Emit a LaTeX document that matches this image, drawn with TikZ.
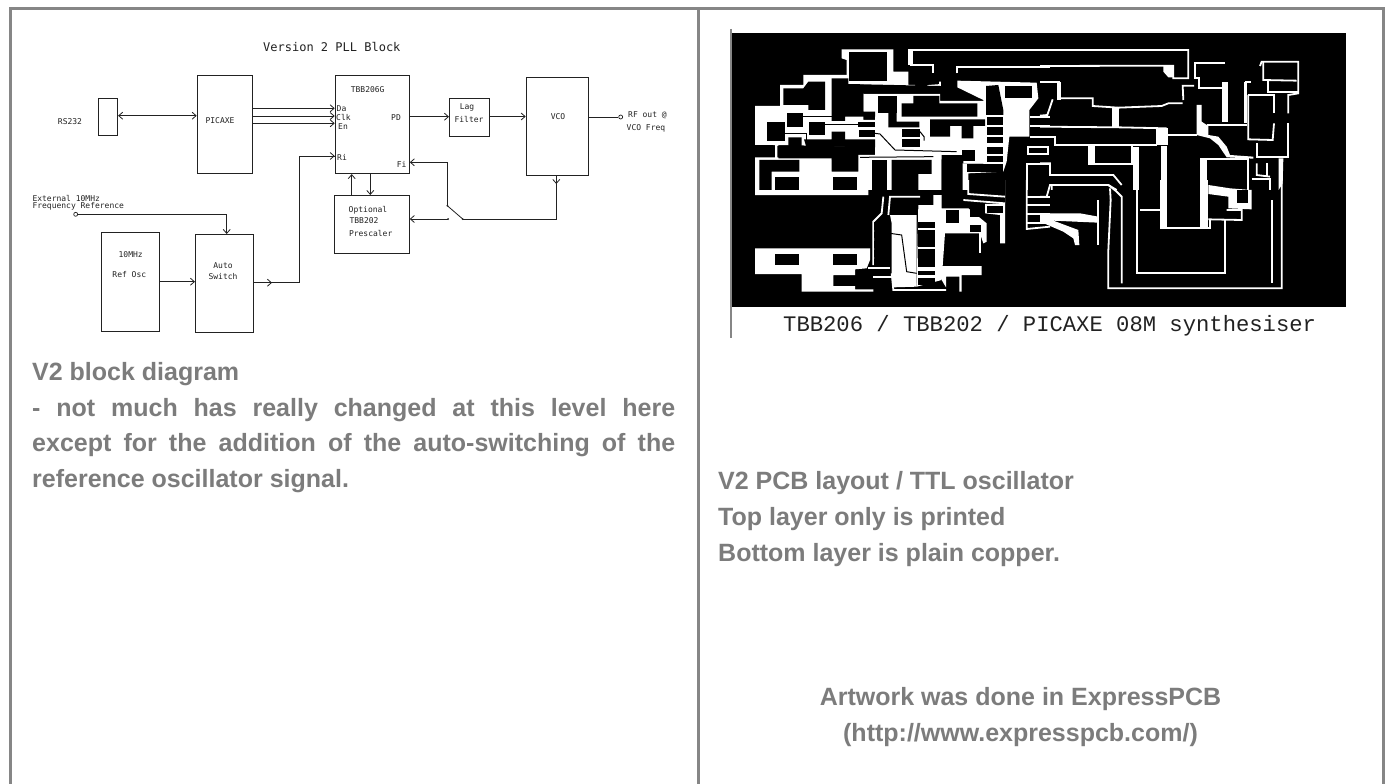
\documentclass[tikz,border=0pt]{standalone}
\usepackage{fontspec}
\setmainfont{Liberation Sans}
\newfontfamily\pixfont{DejaVu Sans Mono}
\newfontfamily\capfont{Liberation Mono}
\usetikzlibrary{arrows.meta}
\definecolor{rule}{HTML}{868686}
\definecolor{prose}{HTML}{7C7C7C}
\definecolor{ink}{HTML}{222222}
\tikzset{
  x=1pt,y=-1pt,
  block/.style={draw=ink,line width=0.8pt,fill=white,inner sep=0pt,anchor=north west},
  wire/.style={draw=ink,line width=0.8pt},
  arr/.style={wire,-{Straight Barb[length=4pt,width=7pt]}},
  barr/.style={wire,{Straight Barb[length=4pt,width=7pt]}-{Straight Barb[length=4pt,width=7pt]}},
  lab/.style={font=\pixfont\fontsize{8}{9}\selectfont,text=ink,inner sep=0pt},
  prosetext/.style={font=\bfseries\fontsize{25}{30}\selectfont,text=prose,inner sep=0pt,anchor=base west},
  term/.style={circle,draw=ink,line width=0.7pt,fill=white,minimum size=4pt,inner sep=0pt},
  z3/.style={shift={(720,20)},x=0.33333pt,y=-0.33333pt},
  z4/.style={shift={(1040,20)},x=0.33333pt,y=-0.33333pt},
  z5/.style={shift={(720,180)},x=0.33333pt,y=-0.33333pt},
  z6/.style={shift={(1040,180)},x=0.33333pt,y=-0.33333pt},
  tr/.style={draw=white,line width=1.8pt,line join=miter},
  trk/.style={draw=black,line width=1pt},
}
\newcommand{\blk}[5]{\node[block,minimum width=#3pt,minimum height=#4pt] (#5) at (#1,#2) {};}
\begin{document}
\begin{tikzpicture}
\useasboundingbox (0,0) rectangle (1390,784);
\fill[white] (0,0) rectangle (1390,784);
% frame
\fill[rule] (9,7) rectangle (1385,10);
\fill[rule] (9,7) rectangle (12,784);
\fill[rule] (697,7) rectangle (700,784);
\fill[rule] (1382,7) rectangle (1385,784);
% ---- block diagram
\node[font=\pixfont\fontsize{12}{14}\selectfont,text=ink,inner sep=0pt,anchor=west] (title) at (263,46.5) {Version 2 PLL Block};
\blk{97.7}{98}{19.6}{37.3}{rs}
\blk{196.7}{75.3}{55.6}{97.4}{pic}
\blk{334.7}{75}{74.3}{98.3}{tbb}
\blk{449}{97.7}{40}{38}{lag}
\blk{525.7}{77.3}{62}{97.7}{vco}
\blk{333.7}{195}{75.3}{58.3}{pre}
\blk{100.7}{232.3}{58}{98.7}{osc}
\blk{195}{234}{58.3}{98.3}{auto}
\node[lab] (rslab) at (70,122) {RS232};
\node[lab] (piclab) at (220,120.7) {PICAXE};
\node[lab,anchor=west] (da) at (336.5,108.5) {Da};
\node[lab,anchor=west] (clk) at (336,117) {Clk};
\node[lab,anchor=west] (en) at (338,127) {En};
\node[lab,anchor=west] (ri) at (337,157) {Ri};
\node[lab] (tbbn) at (367.7,90) {TBB206G};
\node[lab] (pd) at (396,118) {PD};
\node[lab] (fi) at (401.7,164) {Fi};
\node[lab] (l1) at (467,107) {Lag};
\node[lab] (l2) at (469,119) {Filter};
\node[lab] (v1) at (558,117) {VCO};
\node[lab,anchor=west] (rf1) at (628,115) {RF out @};
\node[lab,anchor=west] (rf2) at (626.5,128) {VCO Freq};
\node[lab] (p1) at (368,210) {Optional};
\node[lab] (p2) at (364,221) {TBB202};
\node[lab] (p3) at (370.7,233) {Prescaler};
\node[lab] (o1) at (130.7,255) {10MHz};
\node[lab] (o2) at (129.3,275) {Ref Osc};
\node[lab] (a1) at (223,265.5) {Auto};
\node[lab] (a2) at (223,277) {Switch};
\node[lab,anchor=west] (e1) at (32.3,198) {External 10MHz};
\node[lab,anchor=west] (e2) at (32.3,206) {Frequency Reference};
\node[term] (ext) at (75.7,214.3) {};
\node[term] (rfout) at (620.7,117) {};
\coordinate (sw1) at (462.7,219);
\coordinate (sw2) at (447.3,205.7);
\coordinate (sw3) at (448,219);
\draw[barr] (rs.east |- 0,115.7) -- (pic.west |- 0,115.7);
\draw[arr] (pic.east |- 0,108.3) -- (tbb.west |- 0,108.3);
\draw[arr] (pic.east |- 0,116) -- (tbb.west |- 0,116);
\draw[arr] (pic.east |- 0,123.3) -- (tbb.west |- 0,123.3);
\draw[wire] (auto.east |- 0,282.7) -- (299,282.7) -- (299,156) -- (tbb.west |- 0,156);
\draw[arr] (auto.east |- 0,282.7) -- (272,282.7);
\draw[arr] (299,156) -- (tbb.west |- 0,156);
\draw[arr] (ext) -- (226.7,214.3) -- (auto.north -| 226.7,0);
\draw[arr] (osc.east |- 0,281.7) -- (auto.west |- 0,281.7);
\draw[arr] (tbb.east |- 0,116.7) -- (lag.west |- 0,116.7);
\draw[arr] (lag.east |- 0,116.5) -- (vco.west |- 0,116.5);
\draw[wire] (vco.east |- 0,117) -- (rfout);
\draw[wire] (vco.south -| 556.3,0) -- (556.3,219) -- (sw1);
\draw[arr] (vco.south -| 556.3,0) -- (556.3,184);
\draw[wire] (sw1) -- (sw2);
\draw[arr] (sw2) -- (447.3,162.3) -- (tbb.east |- 0,162.3);
\draw[arr] (sw3) -- (pre.east |- 0,219);
\draw[arr] (pre.north -| 351.7,0) -- (tbb.south -| 351.7,0);
\draw[arr] (tbb.south -| 370.3,0) -- (pre.north -| 370.3,0);
\fill[ink] (sw1) circle (1pt) (sw2) circle (1pt) (sw3) circle (1pt);
% ---- PCB artwork
\fill[black] (731,33) rectangle (1346,307);
\draw[rule,line width=1.3pt] (731,29) -- (731,338);
\begin{scope}[z3]
 \fill[white] (365,88)--(520,88)--(520,155)--(565,155)--(565,195)--(585,195)--(585,201)--(380,192)--(380,120)--(365,115)--cycle;
 \fill[white] (563,88)--(580,88)--(580,135)--(563,135)--cycle;
 \draw[tr] (570,90)--(990,90);
 \draw[tr] (570,135)--(640,135)--(640,158);
 \draw[tr] (710,160)--(710,140)--(990,140);
 \draw[tr] (622,198)--(660,195)--(660,185);
 \fill[white] (105,258)--(180,258)--(180,195)--(250,195)--(250,165)--(385,165)--(385,195)--(430,195)--(430,300)--(465,300)--(465,380)--(160,375)--(160,375)--(105,375)--cycle;
 \fill[white] (165,375)--(175,375)--(175,415)--(335,415)--(335,455)--(415,455)--(415,405)--(665,405)--(665,510)--(452,510)--(440,510)--(105,510)--(105,412)--(165,412)--cycle;
 \fill[white] (430,222)--(660,222)--(660,243)--(800,243)--(800,430)--(730,430)--(730,405)--(465,405)--(465,280)--(430,280)--cycle;
 \fill[white] (712,182)--(950,188)--(955,235)--(928,270)--(928,350)--(868,350)--(860,425)--(850,455)--(745,460)--(745,510)--(728,510)--(728,430)--(790,430)--(790,240)--(712,202)--cycle;
 \fill[black] (388,95) rectangle (500,182);
 \fill[black] (190,205)--(250,205)--(265,185)--(315,185)--(315,270)--(265,270)--(265,255)--(190,255)--cycle;
 \fill[black] (335,175)--(385,175)--(385,192)--(660,198)--(660,220)--(430,220)--(430,275)--(465,275)--(465,290)--(375,290)--(375,303)--(335,303)--cycle;
 \fill[black] (200,280) rectangle (248,322);
 \fill[black] (142,305) rectangle (195,362);
 \fill[black] (268,305) rectangle (315,345);
 \draw[trk] (248,290)--(335,290);
 \draw[trk] (315,315)--(415,315);
 \fill[black] (415,305) rectangle (465,322);
 \fill[black] (418,330) rectangle (465,352);
 \fill[black] (335,335)--(375,335)--(375,358)--(465,358)--(465,382)--(258,378)--(252,358)--(335,358)--cycle;
 \draw[trk] (195,340)--(260,340)--(260,360);
 \fill[black] (172,378)--(205,378)--(205,352)--(245,352)--(245,388)--(412,388)--(412,450)--(340,450)--(335,412)--(172,412)--cycle;
 \fill[black] (118,420)--(238,420)--(238,455)--(155,455)--(155,510)--(118,510)--cycle;
 \fill[black] (165,472) rectangle (238,510);
 \fill[black] (340,472) rectangle (412,510);
 \fill[black] (455,420) rectangle (500,510);
 \fill[black] (515,420)--(635,420)--(635,462)--(595,462)--(595,510)--(515,510)--cycle;
 \fill[black] (665,418)--(705,418)--(705,465)--(725,465)--(725,510)--(665,510)--cycle;
 \fill[black] (475,228) rectangle (530,278);
 \fill[black] (505,278)--(530,278)--(530,305)--(598,305)--(598,322)--(505,322)--cycle;
 \fill[black] (545,250)--(580,250)--(580,228)--(658,228)--(658,250)--(772,250)--(772,290)--(545,290)--cycle;
 \fill[black] (630,298)--(795,298)--(795,318)--(760,318)--(760,355)--(725,355)--(725,318)--(690,318)--(690,350)--(630,350)--cycle;
 \fill[black] (545,328) rectangle (600,352);
 \fill[black] (545,358) rectangle (600,380);
 \draw[trk] (465,340)--(480,342)--(525,390)--(710,395);
 \draw[trk] (420,412)--(640,410);
 \draw[trk] (600,335)--(612,350)--(612,362);
 \fill[black] (725,390) rectangle (765,422);
 \fill[black] (798,198)--(835,195)--(850,270)--(850,285)--(798,285)--cycle;
 \fill[black] (855,198) rectangle (935,235);
 \fill[black] (800,292) rectangle (850,315);
 \fill[black] (800,322) rectangle (850,345);
 \fill[black] (800,352) rectangle (850,370);
 \fill[black] (800,382) rectangle (850,402);
 \fill[black] (800,408) rectangle (850,425);
 \fill[black] (740,432) rectangle (850,455);
 \draw[tr] (930,290)--(990,290);
 \draw[tr] (930,318)--(990,318);
 \draw[tr] (930,350)--(990,350);
 \draw[tr] (925,382) rectangle (985,402);
 \draw[tr] (920,510)--(920,432)--(990,432);
\end{scope}
\begin{scope}[z4]
 \draw[tr] (0,90)--(445,90)--(445,175)--(400,175)--(400,137)--(0,138);
 \fill[white] (370,138)--(400,138)--(400,172)--(385,172)--(370,155)--cycle;
 \draw[tr] (555,128)--(465,128)--(465,175)--(478,175)--(478,205)--(545,205);
 \fill[white] (545,185) rectangle (565,305);
 \draw[tr] (430,240)--(428,197)--(462,197);
 \draw[tr] (615,185)--(632,185);
 \fill[white] (612,185) rectangle (620,310);
 \draw[tr] (500,315)--(620,315);
 \draw[tr] (0,187)--(60,187);
 \fill[white] (52,185) rectangle (64,240);
 \draw[tr] (60,235)--(158,235)--(158,258)--(235,263)--(365,258)--(385,250)--(428,250);
 \draw[tr] (38,238)--(22,285)--(0,287);
 \fill[white] (215,265) rectangle (238,322);
 \draw[tr] (0,320)--(235,322)--(380,325);
 \fill[white] (348,325) rectangle (385,375);
 \draw[tr] (385,345)--(470,345);
 \fill[white] (470,255)--(485,255)--(485,305)--(505,318)--(505,345)--(535,350)--(560,380)--(570,405)--(640,410)--(640,416)--(560,412)--(535,375)--(510,355)--(470,345)--cycle;
 \draw[tr] (625,225)--(625,358)--(698,360)--(702,310);
 \draw[tr] (625,225)--(702,225)--(702,280);
 \draw[tr] (650,370)--(650,412)--(745,412)--(745,310);
 \draw[tr] (745,280)--(745,225)--(775,220)--(775,125)--(665,125)--(660,138);
 \draw[tr] (670,125)--(670,180)--(770,182);
 \draw[tr] (685,180)--(685,215)--(775,215);
 \draw[tr] (0,350)--(45,350)--(45,375)--(350,375);
 \draw[tr] (-5,380)--(25,380)--(25,402)--(-5,402);
 \fill[white] (145,375) rectangle (165,435);
 \draw[tr] (165,432)--(275,432)--(275,378);
 \draw[tr] (0,430)--(30,430)--(30,465)--(220,465)--(245,495);
 \draw[tr] (35,510)--(35,495)--(205,495)--(230,510);
 \fill[white] (278,382) rectangle (298,510);
 \fill[white] (362,378) rectangle (382,510);
 \fill[white] (480,415) rectangle (500,510);
 \draw[tr] (500,417)--(625,417)--(625,510);
 \draw[tr] (650,430)--(650,465)--(690,470);
 \draw[tr] (680,430)--(680,470);
 \draw[tr] (635,478)--(690,478)--(690,510);
 \fill[white] (716,415)--(730,415)--(728,490)--(716,510)--cycle;
\end{scope}
\begin{scope}[z5]
 \fill[white] (105,205)--(450,205)--(450,240)--(440,265)--(405,268)--(405,285)--(340,285)--(340,318)--(405,318)--(405,328)--(460,328)--(460,335)--(245,335)--(245,282)--(105,282)--cycle;
 \fill[black] (165,222) rectangle (238,255);
 \fill[black] (340,222) rectangle (412,255);
 \fill[white] (105,30)--(432,30)--(440,0)--(445,0)--(445,45)--(105,45)--cycle;
 \draw[tr] (490,50)--(485,100)--(460,125)--(460,255);
 \draw[tr] (600,50)--(510,50)--(505,105);
 \fill[white] (510,105)--(590,105)--(590,320)--(520,322)--(515,280)--(515,130)--cycle;
 \fill[white] (595,75)--(640,75)--(640,45)--(665,45)--(665,85)--(720,85)--(745,85)--(800,130)--(800,185)--(790,190)--(780,160)--(675,160)--(665,300)--(590,320)--cycle;
 \fill[black] (462,125) rectangle (512,150);
 \fill[black] (462,155) rectangle (512,175);
 \fill[black] (462,182) rectangle (512,205);
 \fill[black] (462,210) rectangle (512,230);
 \fill[black] (462,238) rectangle (512,255);
 \draw[trk] (510,160)--(545,165)--(560,275)--(590,280);
 \fill[black] (595,125) rectangle (645,145);
 \fill[black] (595,150) rectangle (645,200);
 \fill[black] (595,208) rectangle (645,260);
 \fill[black] (595,272) rectangle (645,285);
 \fill[black] (595,295) rectangle (645,315);
 \fill[black] (678,90) rectangle (718,128);
 \fill[black] (750,85) rectangle (785,112);
 \fill[black] (750,135) rectangle (782,155);
 \fill[white] (665,258)--(785,258)--(785,285)--(725,285)--(725,335)--(718,335)--(718,290)--(678,290)--(678,322)--(665,300)--cycle;
 \draw[tr] (515,280)--(520,330)--(678,330);
 \draw[tr] (460,292)--(515,292);
 \draw[tr] (445,265)--(510,265);
 \draw[tr] (780,160)--(780,218);
 \draw[tr] (745,0)--(745,42)--(855,50);
 \draw[tr] (730,60)--(855,70);
 \fill[white] (855,0)--(855,190)--(840,190)--(840,105)--(795,100)--(795,72)--(855,70)--(855,0)--cycle;
 \fill[black] (800,78) rectangle (850,100);
 \draw[tr] (920,0)--(920,147)--(990,140);
 \draw[tr] (920,50)--(990,50);
 \draw[tr] (920,75)--(990,75);
 \draw[tr] (920,103)--(990,103);
 \draw[tr] (920,128)--(990,128);
\end{scope}
\begin{scope}[z6]
 \draw[tr] (0,50)--(20,50)--(30,15)--(205,15)--(230,35)--(245,50)--(245,310);
 \draw[tr] (175,60)--(175,195);
 \draw[tr] (210,25)--(212,60)--(205,210)--(205,325)--(725,325)--(725,0);
 \draw[tr] (695,60)--(695,310);
 \draw[tr] (290,0)--(290,280)--(555,280)--(555,120);
 \draw[tr] (300,90)--(360,90);
 \draw[tr] (360,145)--(510,145)--(510,120);
 \fill[white] (360,0) rectangle (382,145);
 \fill[white] (480,0) rectangle (505,145);
 \fill[white] (505,15)--(570,25)--(635,30)--(635,88)--(565,85)--(565,50)--(505,42)--cycle;
 \fill[black] (590,30) rectangle (625,70);
 \draw[tr] (505,118)--(605,120)--(605,90)--(560,90);
 \fill[white] (0,100)--(120,100)--(175,110)--(175,128)--(40,122)--(115,150)--(118,195)--(105,195)--(100,175)--(70,155)--(0,125)--cycle;
\end{scope}
% caption
\node[font=\capfont\fontsize{22.2}{24}\selectfont,text=ink,inner sep=0pt,anchor=base west] (cap) at (783,331.7) {TBB206 / TBB202 / PICAXE 08M synthesiser};
% ---- prose
\node[prosetext] (t1) at (32,380.3) {V2 block diagram};
\node[prosetext] (t2) at (32,416) {\makebox[643pt][s]{- not much has really changed at this level here}};
\node[prosetext] (t3) at (32,451.7) {\makebox[643pt][s]{except for the addition of the auto-switching of the}};
\node[prosetext] (t4) at (32,487.4) {reference oscillator signal.};
\node[prosetext] (r1) at (718,489.3) {V2 PCB layout / TTL oscillator};
\node[prosetext] (r2) at (718,525.3) {Top layer only is printed};
\node[prosetext] (r3) at (718,561.3) {Bottom layer is plain copper.};
\node[prosetext,anchor=base] (r4) at (1020.5,705) {Artwork was done in ExpressPCB};
\node[prosetext,anchor=base] (r5) at (1020.5,741) {(http://www.expresspcb.com/)};
\end{tikzpicture}
\end{document}
